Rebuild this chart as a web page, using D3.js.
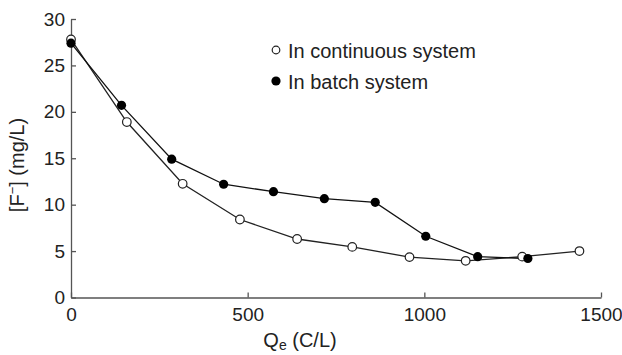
<!DOCTYPE html>
<html>
<head>
<meta charset="utf-8">
<script src="https://cdn.jsdelivr.net/npm/d3@7"></script>
<style>
  html, body { margin: 0; padding: 0; background: #fff; }
  svg { display: block; }
  text { font-family: "Liberation Sans", Arial, sans-serif; fill: #222; }
</style>
</head>
<body>
<svg id="chart" width="622" height="355"></svg>
<script>
// Data
const continuousQ = [0, 158, 316, 478, 640, 796, 958, 1117, 1277, 1439];
const continuousF = [27.8, 18.9, 12.25, 8.4, 6.3, 5.45, 4.35, 3.95, 4.4, 5.0];
const batchQ = [0, 143, 285, 432, 573, 717, 861, 1004, 1151, 1293];
const batchF = [27.4, 20.7, 14.9, 12.2, 11.4, 10.65, 10.25, 6.6, 4.4, 4.2];
const xTicks = [0, 500, 1000, 1500];
const yTicks = [0, 5, 10, 15, 20, 25, 30];
const legendLabels = ["In continuous system", "In batch system"];

const svg = d3.select("#chart");
const x = d3.scaleLinear().domain([0, 1500]).range([71, 601]);
const y = d3.scaleLinear().domain([0, 30]).range([297.5, 19]);
const axisColor = "#555";
const font = "'Liberation Sans', Arial, sans-serif";

// Axes
const xAxis = svg.append("g").attr("transform", `translate(0,${y(0)})`)
  .call(d3.axisBottom(x).tickValues(xTicks).tickSizeInner(-5).tickSizeOuter(0).tickPadding(10).tickFormat(d3.format("d")));
const yAxis = svg.append("g").attr("transform", `translate(${x(0)},0)`)
  .call(d3.axisLeft(y).tickValues(yTicks).tickSizeInner(-5).tickSizeOuter(0).tickPadding(6).tickFormat(d3.format("d")));
[xAxis, yAxis].forEach(g => {
  g.select(".domain").attr("stroke", axisColor).attr("stroke-width", 1.3);
  g.selectAll(".tick line").attr("stroke", axisColor).attr("stroke-width", 1.3);
  g.selectAll(".tick text").attr("fill", "#222").style("font-size", "19px")
    .style("font-family", font);
});

// Lines
const line = d3.line().x(d => x(d[0])).y(d => y(d[1]));
const contData = continuousQ.map((q, i) => [q, continuousF[i]]);
const batchData = batchQ.map((q, i) => [q, batchF[i]]);

svg.append("path").datum(contData).attr("d", line)
  .attr("fill", "none").attr("stroke", "#222").attr("stroke-width", 1.3);
svg.append("path").datum(batchData).attr("d", line)
  .attr("fill", "none").attr("stroke", "#111").attr("stroke-width", 1.3);

svg.selectAll(".cont").data(contData).enter().append("circle")
  .attr("cx", d => x(d[0])).attr("cy", d => y(d[1])).attr("r", 4.3)
  .attr("fill", "#fff").attr("stroke", "#222").attr("stroke-width", 1.2);
svg.selectAll(".batch").data(batchData).enter().append("circle")
  .attr("cx", d => x(d[0])).attr("cy", d => y(d[1])).attr("r", 4.6)
  .attr("fill", "#000");

// Legend
const leg = svg.append("g");
leg.append("circle").attr("cx", 276).attr("cy", 50).attr("r", 3.8)
  .attr("fill", "#fff").attr("stroke", "#222").attr("stroke-width", 1.2);
leg.append("text").attr("x", 288).attr("y", 58).style("font-size", "20px").text(legendLabels[0]);
leg.append("circle").attr("cx", 276).attr("cy", 81).attr("r", 4.6).attr("fill", "#000");
leg.append("text").attr("x", 288).attr("y", 89).style("font-size", "20px").text(legendLabels[1]);

// Axis titles
const xt = svg.append("text").attr("x", 300).attr("y", 347).attr("text-anchor", "middle")
  .style("font-size", "20px");
xt.append("tspan").text("Q");
xt.append("tspan").attr("dy", 3).style("font-size", "14px").text("e");
xt.append("tspan").attr("dy", -3).text(" (C/L)");

const yt = svg.append("text").attr("transform", "translate(24,165) rotate(-90)")
  .attr("text-anchor", "middle").style("font-size", "20px");
yt.append("tspan").text("[F");
yt.append("tspan").attr("dy", -7).style("font-size", "13px").text("−");
yt.append("tspan").attr("dy", 7).text("] (mg/L)");
</script>
</body>
</html>
